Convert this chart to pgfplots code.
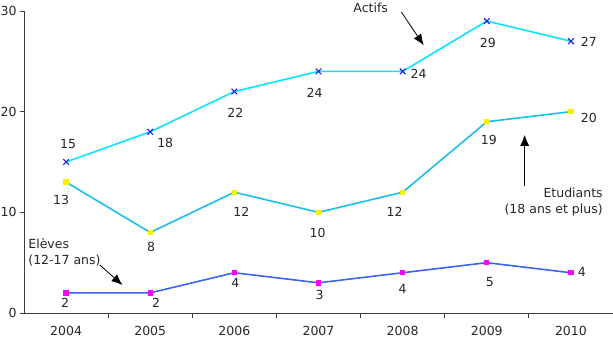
\documentclass[border=0pt]{standalone}
\usepackage{pgfplots}
\pgfplotsset{compat=1.18}
\usetikzlibrary{arrows.meta}
\usepackage{fontspec}
\setmainfont{DejaVu Sans}
\definecolor{actif}{RGB}{10,228,255}
\definecolor{etud}{RGB}{25,190,235}
\definecolor{eleve}{RGB}{60,100,240}
\definecolor{xblue}{RGB}{30,30,220}
\definecolor{yel}{RGB}{250,240,0}
\definecolor{mag}{RGB}{255,0,255}
\definecolor{axgray}{RGB}{60,60,60}
\newcommand{\lab}[5]{\node[font=\fontsize{12.5bp}{14bp}\selectfont, text=black!85, inner sep=0pt] at (axis cs:#1,#2) [xshift=#3bp, yshift=-#4bp] {#5};}
\begin{document}
\begin{tikzpicture}
\begin{axis}[
  name=ax,
  scale only axis,
  width=589bp, height=302bp,
  xmin=-0.5, xmax=6.5, ymin=0, ymax=30,
  axis x line*=bottom, axis y line*=left,
  axis line style={axgray, line width=0.8pt},
  xtick={0,...,6},
  xticklabels={2004,2005,2006,2007,2008,2009,2010},
  minor xtick={0.5,1.5,...,5.5},
  ytick={0,10,20,30},
  tick align=outside,
  major tick length=4bp,
  minor tick length=5bp,
  x tick style={draw=none},
  minor x tick style={draw=axgray, line width=0.8pt},
  y tick style={axgray, line width=0.8pt},
  xticklabel style={yshift=-6bp},
  ticklabel style={font=\fontsize{12.5bp}{14bp}\selectfont, text=black!85},
  /pgf/number format/assume math mode=true,
  clip=false,
]
\addplot[actif, line width=1.6pt, mark=x, mark size=4bp, mark options={xblue, line width=1.1pt}]
  coordinates {(0,15) (1,18) (2,22) (3,24) (4,24) (5,29) (6,27)};
\addplot[etud, line width=1.6pt, mark=square*, mark size=1.9bp, mark options={yel, fill=yel}]
  coordinates {(0,13) (1,8) (2,12) (3,10) (4,12) (5,19) (6,20)};
\addplot[eleve, line width=1.6pt, mark=square*, mark size=1.9bp, mark options={mag, fill=mag}]
  coordinates {(0,2) (1,2) (2,4) (3,3) (4,4) (5,5) (6,4)};
% Actifs labels
\lab{0}{15}{2}{-18}{15}
\lab{1}{18}{15}{11}{18}
\lab{2}{22}{1}{21}{22}
\lab{3}{24}{-4}{21}{24}
\lab{4}{24}{16}{2}{24}
\lab{5}{29}{1}{22}{29}
\lab{6}{27}{18}{1}{27}
% Etudiants labels
\lab{0}{13}{-5}{18}{13}
\lab{1}{8}{1}{14}{8}
\lab{2}{12}{7}{20}{12}
\lab{3}{10}{-1}{21}{10}
\lab{4}{12}{-8}{20}{12}
\lab{5}{19}{2}{18}{19}
\lab{6}{20}{18}{6}{20}
% Eleves labels
\lab{0}{2}{-1}{10}{2}
\lab{1}{2}{6}{10}{2}
\lab{2}{4}{1}{10}{4}
\lab{3}{3}{1}{12}{3}
\lab{4}{4}{0}{16}{4}
\lab{5}{5}{3}{19}{5}
\lab{6}{4}{11}{-1}{4}
% annotations
\node[font=\fontsize{12.5bp}{14bp}\selectfont, text=black!85, inner sep=0pt] at (axis cs:3.62,30.3) {Actifs};
\draw[-{Latex[length=11bp,width=9bp]}, line width=0.8pt] (axis cs:3.985,29.9) -- (axis cs:4.25,26.6);
\node[font=\fontsize{12.5bp}{14bp}\selectfont, text=black!85, inner sep=0pt, anchor=east, align=right] at (axis cs:6.38,11.05) {Etudiants\\[2bp](18 ans et plus)};
\draw[-{Latex[length=11bp,width=9bp]}, line width=0.8pt] (axis cs:5.45,12.6) -- (axis cs:5.45,17.7);
\node[font=\fontsize{12.5bp}{14bp}\selectfont, text=black!85, inner sep=0pt, anchor=west, align=left] at (axis cs:-0.45,6.07) {Elèves\\[2bp](12-17 ans)};
\draw[-{Latex[length=11bp,width=9bp]}, line width=0.8pt] (axis cs:0.40,4.77) -- (axis cs:0.67,2.78);
\end{axis}
\pgfresetboundingbox
\path ([shift={(-24bp,-27bp)}]ax.south west) rectangle ([shift={(0bp,11bp)}]ax.north east);
\end{tikzpicture}
\end{document}
